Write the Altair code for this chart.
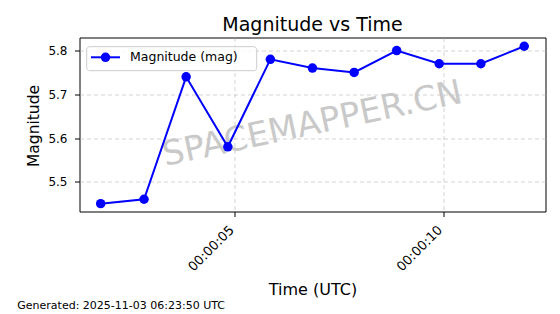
import altair as alt
import pandas as pd

# data
times_s = [1.78, 2.82, 3.83, 4.83, 5.85, 6.86, 7.86, 8.88, 9.90, 10.90, 11.94]
magnitudes = [5.45, 5.46, 5.74, 5.58, 5.78, 5.76, 5.75, 5.80, 5.77, 5.77, 5.81]
series_name = ["Magnitude (mag)"]
x_ticks = [5, 10]
y_ticks = [5.5, 5.6, 5.7, 5.8]
title_text = "Magnitude vs Time"
x_title = "Time (UTC)"
y_title = "Magnitude"
watermark = ["SPACEMAPPER.CN"]
footer = ["Generated: 2025-11-03 06:23:50 UTC"]

df = pd.DataFrame({"t": times_s, "mag": magnitudes})

W, H = 466, 174
FONT = "DejaVu Sans"
BLUE = "#0000ff"

xscale = alt.Scale(domain=[1.272, 12.45], nice=False, zero=False)
yscale = alt.Scale(domain=[5.432, 5.830], nice=False, zero=False)

xaxis = alt.Axis(
    values=x_ticks,
    labelExpr="'00:00:' + (datum.value < 10 ? '0' : '') + datum.value",
    labelAngle=315, labelAlign="right", labelBaseline="middle",
    labelPadding=11, labelOffset=-3.5, labelFontSize=13, labelFont=FONT, labelColor="#000",
    tickSize=5, tickColor="#000", domain=False,
    grid=True, gridDash=[4, 3], gridColor="#b0b0b0", gridOpacity=0.7, gridWidth=0.8,
    title=x_title, titleFont=FONT, titleFontSize=16, titleFontWeight="normal", titleColor="#000",
    titleX=233, titleY=83, titleBaseline="alphabetic", titleAlign="center",
)
yaxis = alt.Axis(
    values=y_ticks, format=".1f",
    labelPadding=7.5, labelFontSize=12, labelFont=FONT, labelColor="#000",
    tickSize=5, tickColor="#000", domain=False,
    grid=True, gridDash=[4, 3], gridColor="#b0b0b0", gridOpacity=0.7, gridWidth=0.8,
    title=y_title, titleFont=FONT, titleFontSize=15.5, titleFontWeight="normal", titleColor="#000",
    titleX=-41, titleY=88, titleAngle=270, titleBaseline="alphabetic", titleAlign="center",
)

base = alt.Chart(df)

wm = alt.Chart(pd.DataFrame({"w": watermark})).mark_text(
    font=FONT, fontSize=34, color="#c4c4c4", opacity=0.9, angle=348,
    align="center", baseline="middle"
).encode(text="w:N", x=alt.value(W / 2), y=alt.value(H / 2))

line = base.mark_line(color=BLUE, strokeWidth=2).encode(
    x=alt.X("t:Q", scale=xscale, axis=xaxis),
    y=alt.Y("mag:Q", scale=yscale, axis=yaxis),
)

pts = base.mark_point(filled=True, size=90, opacity=1, shape="circle", color=BLUE).encode(
    x=alt.X("t:Q", scale=xscale),
    y=alt.Y("mag:Q", scale=yscale),
)

# legend (drawn manually, matplotlib-style)
leg_df = pd.DataFrame({"label": series_name})
leg_box = alt.Chart(leg_df).mark_rect(
    fill="white", fillOpacity=0.8, stroke="#cccccc", strokeWidth=1, cornerRadius=3
).encode(x=alt.value(7.2), x2=alt.value(177.2), y=alt.value(9.2), y2=alt.value(33.2))
leg_line = alt.Chart(leg_df).mark_rule(color=BLUE, strokeWidth=2).encode(
    x=alt.value(11.5), x2=alt.value(40.5), y=alt.value(19.8))
leg_pt = alt.Chart(leg_df).mark_point(filled=True, size=90, opacity=1, shape="circle", color=BLUE).encode(
    x=alt.value(26), y=alt.value(19.8))
leg_txt = alt.Chart(leg_df).mark_text(
    font=FONT, fontSize=12.5, color="#000", align="left", baseline="alphabetic"
).encode(text="label:N", x=alt.value(50.5), y=alt.value(23.8))

foot = alt.Chart(pd.DataFrame({"f": footer})).mark_text(
    font=FONT, fontSize=11, color="#000", align="left", baseline="alphabetic"
).encode(text="f:N", x=alt.value(-62.2), y=alt.value(271))

chart = alt.layer(wm, line, pts, leg_box, leg_line, leg_pt, leg_txt, foot).properties(
    width=W, height=H,
    background="white",
    title=alt.TitleParams(title_text, font=FONT, fontSize=19, fontWeight="normal", color="#000",
                          anchor="middle", offset=3),
    autosize=alt.AutoSizeParams(type="none"),
    padding={"left": 79.5, "top": 37.5, "right": 14.5, "bottom": 102.5},
).configure_view(stroke="#000000", strokeWidth=1)

chart.save("out.html", embed_options={"renderer": "svg", "actions": False})
